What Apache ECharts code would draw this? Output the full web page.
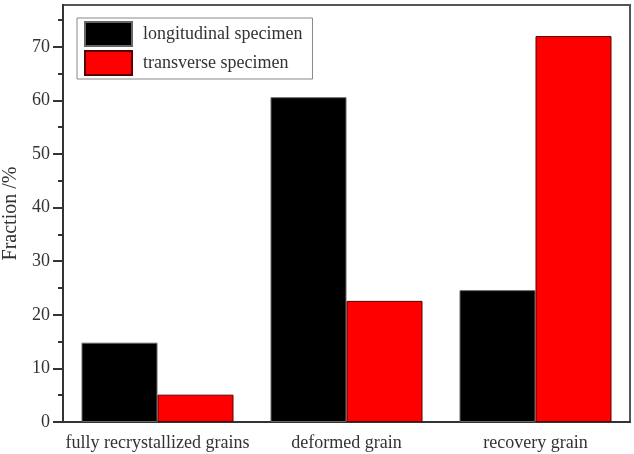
<!DOCTYPE html>
<html>
<head>
<meta charset="utf-8">
<script src="https://cdn.jsdelivr.net/npm/echarts@6/dist/echarts.min.js"></script>
<style>
  html, body { margin: 0; padding: 0; background: #fff; }
  #chart { width: 634px; height: 454px; }
</style>
</head>
<body>
<div id="chart"></div>
<script>
const categories = ["fully recrystallized grains", "deformed grain", "recovery grain"];
const longitudinal = [14.8, 60.6, 24.6];
const transverse = [5.1, 22.6, 72.0];
const yMajorTicks = [0, 10, 20, 30, 40, 50, 60, 70];
const yMinorTicks = [5, 15, 25, 35, 45, 55, 65, 75];
const yMax = 77.8;

const font = "Liberation Serif";
const textColor = "#333";

let myChart = echarts.init(document.getElementById("chart"));
myChart.setOption({
  animation: false,
  grid: {
    left: 63,
    right: 4,
    top: 5,
    bottom: 32,
    containLabel: false,
    outerBoundsMode: "none",
    show: true,
    borderColor: "#555",
    borderWidth: 2,
  },
  legend: {
    orient: "vertical",
    left: 77,
    top: 18,
    icon: "rect",
    itemWidth: 47,
    itemHeight: 24,
    itemGap: 3,
    padding: [3, 10, 3, 7],
    backgroundColor: "#fff",
    borderColor: "#888",
    borderWidth: 1,
    textStyle: {
      fontFamily: font,
      fontSize: 18,
      color: textColor,
      padding: [0, 0, 0, 6],
    },
  },
  xAxis: {
    type: "category",
    data: categories,
    axisLine: { lineStyle: { color: "#333", width: 2 } },
    axisTick: { alignWithLabel: true, length: 8, lineStyle: { color: "#333", width: 2 } },
    axisLabel: { interval: 0, fontFamily: font, fontSize: 18, color: textColor, margin: 12 },
  },
  yAxis: [
    {
      type: "value",
      min: 0,
      max: yMax,
      interval: 10,
      name: "Fraction /%",
      nameLocation: "middle",
      nameGap: 40,
      nameTextStyle: { fontFamily: font, fontSize: 20, color: textColor },
      axisLine: { show: true, lineStyle: { color: "#333", width: 2 } },
      axisTick: { show: true, length: 10, customValues: yMajorTicks, lineStyle: { color: "#333", width: 2 } },
      axisLabel: { fontFamily: font, fontSize: 18, color: textColor, margin: 13, customValues: yMajorTicks },
      splitLine: { show: false },
    },
    {
      // minor ticks only
      type: "value",
      position: "left",
      min: 0,
      max: yMax,
      interval: 10,
      axisLine: { show: false },
      axisTick: { show: true, length: 5, customValues: yMinorTicks, lineStyle: { color: "#333", width: 2 } },
      axisLabel: { show: false },
      splitLine: { show: false },
    },
  ],
  series: [
    {
      name: "longitudinal specimen",
      type: "bar",
      data: longitudinal,
      barWidth: 76,
      barGap: "0%",
      itemStyle: { color: "#000", borderColor: "#666", borderWidth: 1 },
    },
    {
      name: "transverse specimen",
      type: "bar",
      data: transverse,
      barWidth: 76,
      barGap: "0%",
      itemStyle: { color: "#ff0000", borderColor: "#5a0000", borderWidth: 1 },
    },
  ],
});
</script>
</body>
</html>
